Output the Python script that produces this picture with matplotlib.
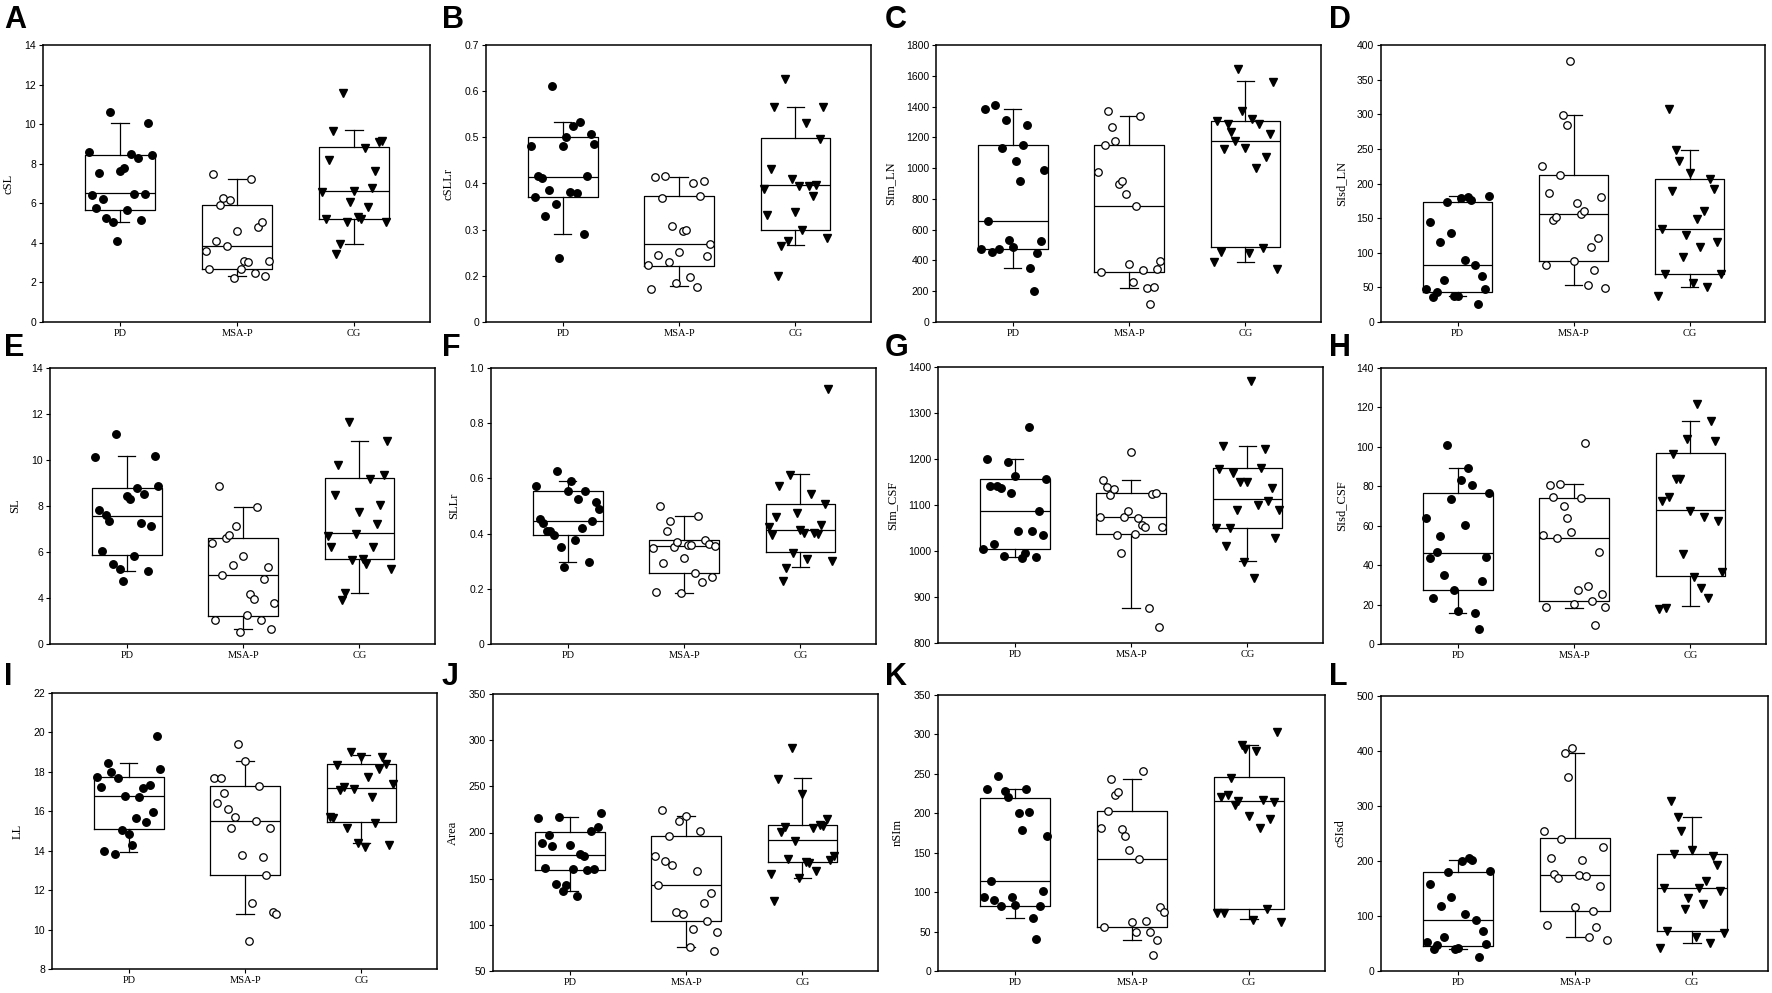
import numpy as np
import matplotlib
matplotlib.use("Agg")
import matplotlib.pyplot as plt

groups = ["PD", "MSA-P", "CG"]

# values are listed left-to-right in the order they sit inside each group
# box rows are [lower whisker, Q1, median, Q3, upper whisker]

''' A: cSL '''
csl_pd = [8.59, 6.42, 5.78, 7.51, 6.23, 5.27, 10.6, 5.04, 4.09, 7.65, 7.8, 5.66, 8.49, 6.49, 8.27, 5.14, 6.49, 10.07, 8.42]
csl_msa = [3.57, 2.7, 7.5, 4.11, 5.93, 6.28, 3.84, 6.15, 2.24, 4.6, 2.68, 3.08, 3.05, 7.21, 2.46, 4.82, 5.07, 2.32, 3.07]
csl_cg = [6.59, 5.22, 8.17, 9.67, 3.44, 3.93, 11.59, 5.07, 6.08, 6.64, 5.32, 5.19, 8.78, 5.83, 6.76, 7.65, 9.1, 9.15, 5.04]
csl_box = [[5.04, 5.68, 6.5, 8.44, 10.07], [2.31, 2.68, 3.84, 5.91, 7.21], [3.93, 5.19, 6.6, 8.84, 9.7]]
csl_ticks = [0, 2, 4, 6, 8, 10, 12, 14]
csl_labels = ["0", "2", "4", "6", "8", "10", "12", "14"]

''' B: cSLLr '''
csllr_pd = [0.482, 0.371, 0.416, 0.411, 0.330, 0.385, 0.612, 0.356, 0.239, 0.482, 0.5, 0.382, 0.524, 0.380, 0.533, 0.291, 0.416, 0.508, 0.485]
csllr_msa = [0.223, 0.172, 0.413, 0.246, 0.369, 0.416, 0.231, 0.309, 0.185, 0.252, 0.297, 0.299, 0.198, 0.400, 0.176, 0.373, 0.406, 0.242, 0.270]
csllr_cg = [0.388, 0.332, 0.431, 0.566, 0.199, 0.265, 0.626, 0.275, 0.410, 0.338, 0.395, 0.299, 0.531, 0.395, 0.372, 0.397, 0.496, 0.566, 0.283]
csllr_box = [[0.291, 0.371, 0.415, 0.5, 0.533], [0.177, 0.222, 0.27, 0.372, 0.413], [0.266, 0.299, 0.397, 0.498, 0.566]]
csllr_ticks = [0.1, 0.2, 0.3, 0.4, 0.5, 0.6, 0.7]
csllr_labels = ["0", "0.2", "0.3", "0.4", "0.5", "0.6", "0.7"]

''' C: SIm_LN '''
simln_pd = [472, 1386, 656, 457, 1408, 472, 1128, 1313, 533, 485, 1046, 918, 1150, 1278, 351, 201, 446, 528, 990]
simln_msa = [973, 323, 1152, 1369, 1265, 1176, 897, 916, 832, 379, 258, 752, 1341, 338, 223, 117, 225, 344, 394]
simln_cg = [388, 1304, 455, 1122, 1287, 1237, 1174, 1642, 1373, 1131, 451, 1317, 999, 1287, 481, 1070, 1222, 1560, 344]
simln_box = [[351, 472, 656, 1148, 1386], [223, 323, 752, 1152, 1341], [390, 485, 1174, 1304, 1564]]
simln_ticks = [0, 200, 400, 600, 800, 1000, 1200, 1400, 1600, 1800]
simln_labels = [str(t) for t in simln_ticks]

''' D: SIsd_LN '''
sisdln_pd = [47, 145, 36, 44, 115, 60, 173, 128, 38, 38, 179, 90, 181, 176, 82, 26, 66, 47, 182]
sisdln_msa = [225, 82, 187, 147, 151, 212, 299, 284, 377, 88, 172, 156, 160, 54, 109, 75, 121, 180, 49]
sisdln_cg = [37, 134, 70, 307, 189, 248, 232, 94, 125, 215, 57, 149, 109, 160, 51, 206, 192, 115, 69]
sisdln_box = [[37, 44, 82, 173, 182], [54, 88, 156, 212, 299], [51, 70, 135, 207, 248]]
sisdln_ticks = [0, 50, 100, 150, 200, 250, 300, 350, 400]
sisdln_labels = [str(t) for t in sisdln_ticks]

''' E: SL '''
sl_pd = [10.15, 7.82, 6.05, 7.59, 7.34, 5.46, 11.13, 5.27, 4.74, 8.43, 8.30, 5.84, 8.80, 7.27, 8.53, 5.16, 7.12, 10.19, 8.88]
sl_msa = [6.41, 3.06, 8.85, 5.0, 6.59, 6.76, 5.42, 7.13, 2.51, 5.82, 3.26, 4.19, 3.96, 7.97, 3.06, 4.82, 5.35, 2.65, 3.80]
sl_cg = [6.68, 6.23, 8.46, 9.77, 3.90, 4.22, 11.67, 5.65, 6.79, 7.72, 5.68, 5.46, 9.18, 6.20, 7.21, 8.06, 9.33, 10.82, 5.26]
sl_box = [[5.16, 5.85, 7.57, 8.79, 10.18], [2.65, 3.23, 5.0, 6.59, 7.97], [4.23, 5.68, 6.81, 9.2, 10.83]]
sl_ticks = [2, 4, 6, 8, 10, 12, 14]
sl_labels = ["0", "4", "6", "8", "10", "12", "14"]

''' F: SLLr '''
sllr_pd = [0.572, 0.453, 0.437, 0.408, 0.408, 0.396, 0.627, 0.351, 0.280, 0.554, 0.589, 0.376, 0.525, 0.421, 0.554, 0.297, 0.446, 0.513, 0.489]
sllr_msa = [0.349, 0.187, 0.501, 0.292, 0.409, 0.446, 0.351, 0.368, 0.184, 0.313, 0.359, 0.360, 0.256, 0.464, 0.223, 0.377, 0.361, 0.242, 0.354]
sllr_cg = [0.424, 0.396, 0.460, 0.572, 0.228, 0.277, 0.614, 0.329, 0.473, 0.414, 0.403, 0.309, 0.543, 0.401, 0.397, 0.430, 0.506, 0.925, 0.301]
sllr_box = [[0.298, 0.394, 0.446, 0.553, 0.589], [0.186, 0.256, 0.354, 0.377, 0.464], [0.280, 0.333, 0.413, 0.508, 0.615]]
sllr_ticks = [0, 0.2, 0.4, 0.6, 0.8, 1.0]
sllr_labels = ["0", "0.2", "0.4", "0.6", "0.8", "1.0"]

''' G: SIm_CSF '''
simcsf_pd = [1005, 1201, 1141, 1015, 1141, 1136, 990, 1194, 1127, 1163, 1044, 984, 996, 1270, 1044, 988, 1086, 1035, 1157]
simcsf_msa = [1073, 1154, 1139, 1122, 1135, 1035, 995, 1073, 1088, 1215, 1036, 1072, 1057, 1053, 877, 1123, 1126, 834, 1053]
simcsf_cg = [1051, 1178, 1228, 1011, 1051, 1169, 1089, 1151, 977, 1149, 1370, 942, 1100, 1180, 1221, 1109, 1138, 1028, 1089]
simcsf_box = [[988, 1004, 1086, 1157, 1201], [877, 1036, 1073, 1127, 1154], [978, 1051, 1112, 1180, 1229]]
simcsf_ticks = [800, 900, 1000, 1100, 1200, 1300, 1400]
simcsf_labels = [str(t) for t in simcsf_ticks]

''' H: SIsd_CSF '''
sisdcsf_pd = [64.1, 43.5, 23.3, 46.7, 55.0, 35.0, 100.9, 73.4, 27.4, 16.7, 83.2, 60.4, 89.3, 80.5, 15.9, 7.6, 32.1, 44.0, 76.6]
sisdcsf_msa = [55.5, 18.6, 80.8, 74.7, 53.9, 81.3, 69.8, 64.1, 56.8, 20.3, 27.2, 74.1, 102.1, 29.6, 22.0, 9.5, 46.7, 25.4, 18.6]
sisdcsf_cg = [17.8, 72.5, 18.1, 74.4, 96.4, 83.9, 83.7, 45.8, 103.8, 67.6, 33.8, 121.7, 28.4, 64.3, 23.3, 113.0, 103.0, 62.4, 36.5]
sisdcsf_box = [[15.9, 27.4, 46.3, 76.6, 89.3], [18.4, 21.8, 53.9, 74.1, 81.3], [19.1, 34.7, 68.1, 96.9, 113.3]]
sisdcsf_ticks = [0, 20, 40, 60, 80, 100, 120, 140]
sisdcsf_labels = [str(t) for t in sisdcsf_ticks]

''' I: LL '''
ll_pd = [17.72, 17.25, 13.97, 18.45, 17.99, 13.83, 17.69, 15.05, 16.78, 14.86, 14.27, 15.64, 16.72, 17.18, 15.47, 17.35, 15.95, 19.80, 18.14]
ll_msa = [17.71, 16.40, 17.67, 16.94, 16.12, 15.17, 15.71, 19.41, 13.77, 18.53, 9.44, 11.36, 15.52, 17.28, 13.66, 12.77, 15.13, 10.89, 10.80]
ll_cg = [15.71, 15.66, 18.35, 17.08, 17.21, 15.15, 19.01, 17.15, 14.37, 18.77, 14.20, 17.76, 16.72, 15.42, 18.13, 18.77, 18.38, 14.31, 17.37]
ll_box = [[13.95, 15.08, 16.78, 17.72, 18.45], [10.81, 12.78, 15.52, 17.27, 18.53], [14.37, 15.46, 17.16, 18.38, 18.84]]
ll_ticks = [8, 10, 12, 14, 16, 18, 20, 22]
ll_labels = [str(t) for t in ll_ticks]

''' J: Area '''
area_pd = [215.7, 188.9, 161.1, 197.6, 185.7, 144.4, 217.2, 136.8, 143.0, 186.8, 160.4, 130.7, 176.3, 174.1, 159.3, 201.3, 160.4, 206.0, 221.5]
area_msa = [174.8, 142.6, 224.8, 169.0, 196.2, 164.3, 114.4, 212.5, 111.9, 218.3, 76.4, 95.6, 158.2, 201.6, 123.4, 104.3, 134.7, 71.3, 92.3]
area_cg = [154.9, 126.3, 258.4, 200.5, 205.6, 171.2, 291.0, 190.8, 150.9, 242.1, 168.3, 166.9, 204.9, 158.2, 208.5, 207.0, 214.6, 170.5, 174.1]
area_box = [[136.8, 158.9, 175.9, 200.5, 217.2], [76.4, 104.3, 142.6, 196.2, 218.3], [150.9, 167.6, 191.5, 208.5, 259.2]]
area_ticks = [50, 100, 150, 200, 250, 300, 350]
area_labels = [str(t) for t in area_ticks]

''' K: nSIm '''
nsim_pd = [93.8, 230.8, 114.5, 89.6, 246.8, 82.8, 228.7, 220.2, 93.8, 83.3, 199.9, 179.2, 230.8, 201.2, 66.8, 40.2, 82.0, 101.4, 171.2]
nsim_msa = [181.3, 55.4, 203.3, 243.9, 222.7, 227.0, 180.1, 170.8, 153.0, 61.7, 49.5, 142.0, 254.0, 63.8, 49.9, 20.3, 38.9, 81.6, 74.4]
nsim_cg = [73.5, 220.2, 73.5, 222.7, 245.1, 210.9, 215.1, 286.6, 281.5, 196.1, 64.7, 279.0, 180.9, 217.2, 78.2, 192.3, 214.7, 303.5, 62.1]
nsim_box = [[66.8, 82.8, 114.5, 219.8, 230.8], [39.3, 55.4, 142.4, 202.9, 243.9], [65.5, 79.0, 215.6, 245.6, 286.1]]
nsim_ticks = [0, 50, 100, 150, 200, 250, 300, 350]
nsim_labels = [str(t) for t in nsim_ticks]

''' L: cSIsd '''
csisd_pd = [52.6, 157.8, 39.9, 47.2, 117.3, 62.3, 180.8, 134.8, 40.5, 42.3, 199.5, 104.0, 206.2, 202.5, 92.5, 24.8, 71.9, 48.4, 182.6]
csisd_msa = [253.9, 84.0, 205.6, 176.5, 169.3, 240.6, 396.6, 352.5, 405.7, 115.5, 174.7, 202.5, 172.9, 62.3, 110.0, 79.2, 155.4, 225.5, 55.6]
csisd_cg = [42.3, 151.1, 73.2, 309.0, 212.2, 279.3, 255.1, 113.1, 133.6, 219.5, 61.1, 150.5, 122.1, 163.8, 50.2, 208.6, 192.9, 146.3, 68.3]
csisd_box = [[40.5, 45.9, 92.5, 180.8, 202.5], [62.3, 110.0, 174.7, 241.2, 396.6], [51.4, 73.2, 151.1, 212.2, 279.3]]
csisd_ticks = [0, 100, 200, 300, 400, 500]
csisd_labels = [str(t) for t in csisd_ticks]

panels = [
  ("A", "cSL", [csl_pd, csl_msa, csl_cg], csl_box, csl_ticks, csl_labels),
  ("B", "cSLLr", [csllr_pd, csllr_msa, csllr_cg], csllr_box, csllr_ticks, csllr_labels),
  ("C", "SIm_LN", [simln_pd, simln_msa, simln_cg], simln_box, simln_ticks, simln_labels),
  ("D", "SIsd_LN", [sisdln_pd, sisdln_msa, sisdln_cg], sisdln_box, sisdln_ticks, sisdln_labels),
  ("E", "SL", [sl_pd, sl_msa, sl_cg], sl_box, sl_ticks, sl_labels),
  ("F", "SLLr", [sllr_pd, sllr_msa, sllr_cg], sllr_box, sllr_ticks, sllr_labels),
  ("G", "SIm_CSF", [simcsf_pd, simcsf_msa, simcsf_cg], simcsf_box, simcsf_ticks, simcsf_labels),
  ("H", "SIsd_CSF", [sisdcsf_pd, sisdcsf_msa, sisdcsf_cg], sisdcsf_box, sisdcsf_ticks, sisdcsf_labels),
  ("I", "LL", [ll_pd, ll_msa, ll_cg], ll_box, ll_ticks, ll_labels),
  ("J", "Area", [area_pd, area_msa, area_cg], area_box, area_ticks, area_labels),
  ("K", "nSIm", [nsim_pd, nsim_msa, nsim_cg], nsim_box, nsim_ticks, nsim_labels),
  ("L", "cSIsd", [csisd_pd, csisd_msa, csisd_cg], csisd_box, csisd_ticks, csisd_labels),
]

''' Layout in pixels: left, top, right, bottom of each plot frame '''
W, H = 1772, 993
frames = [
  (43, 45, 430, 322), (486, 45, 871, 322), (936, 45, 1321, 322), (1381, 45, 1765, 322),
  (50, 368, 435, 644), (491, 368, 876, 644), (938, 367, 1323, 643), (1381, 368, 1766, 644),
  (52, 693, 437, 969), (493, 694, 878, 971), (938, 695, 1325, 971), (1381, 696, 1768, 971),
]
letter_pos = [
  (4, 5), (442, 5), (885, 5), (1329, 5),
  (4, 333), (442, 333), (885, 333), (1329, 333),
  (4, 662), (442, 662), (885, 662), (1329, 662),
]

markers = [
  dict(marker='o', markersize=5.4, markerfacecolor='black', markeredgecolor='black'),
  dict(marker='o', markersize=5.4, markerfacecolor='white', markeredgecolor='black', markeredgewidth=0.9),
  dict(marker='v', markersize=5.8, markerfacecolor='black', markeredgecolor='black'),
]

fig = plt.figure(figsize=(W / 100, H / 100), dpi=100)

for k, (letter, ylabel, series, box, ticks, labels) in enumerate(panels):
  l, t, r, b = frames[k]
  ax = fig.add_axes([l / W, 1 - b / H, (r - l) / W, (b - t) / H])

  stats = []
  for row in box:
    stats.append(dict(whislo=row[0], q1=row[1], med=row[2], q3=row[3], whishi=row[4]))
  ax.bxp(stats, positions=[1, 2, 3], widths=0.6, capwidths=0.15, showfliers=False,
         boxprops=dict(color='black', linewidth=0.9),
         whiskerprops=dict(color='black', linewidth=0.9),
         capprops=dict(color='black', linewidth=0.9),
         medianprops=dict(color='black', linewidth=0.9))

  for g, vals in enumerate(series):
    xs = (g + 1) + np.linspace(-0.27, 0.27, len(vals))
    ax.plot(xs, vals, linestyle='none', zorder=3, **markers[g])

  ax.set_xlim(0.34, 3.65)
  ax.set_ylim(ticks[0], ticks[-1])
  ax.set_yticks(ticks)
  ax.set_yticklabels(labels, fontfamily='Liberation Sans', fontsize=7.5)
  ax.set_xticks([1, 2, 3])
  ax.set_xticklabels(groups, fontfamily='Liberation Serif', fontsize=7.5)
  ax.tick_params(direction='out', length=3, width=0.8, pad=2)
  for s in ax.spines.values():
    s.set_linewidth(1.1)
  ax.set_ylabel(ylabel, fontfamily='Liberation Serif', fontsize=9, labelpad=7)

  fig.text(letter_pos[k][0] / W, 1 - letter_pos[k][1] / H, letter,
           fontfamily='Liberation Sans', fontweight='bold', fontsize=22, va='top', ha='left')

plt.savefig('out.png', dpi=100)
